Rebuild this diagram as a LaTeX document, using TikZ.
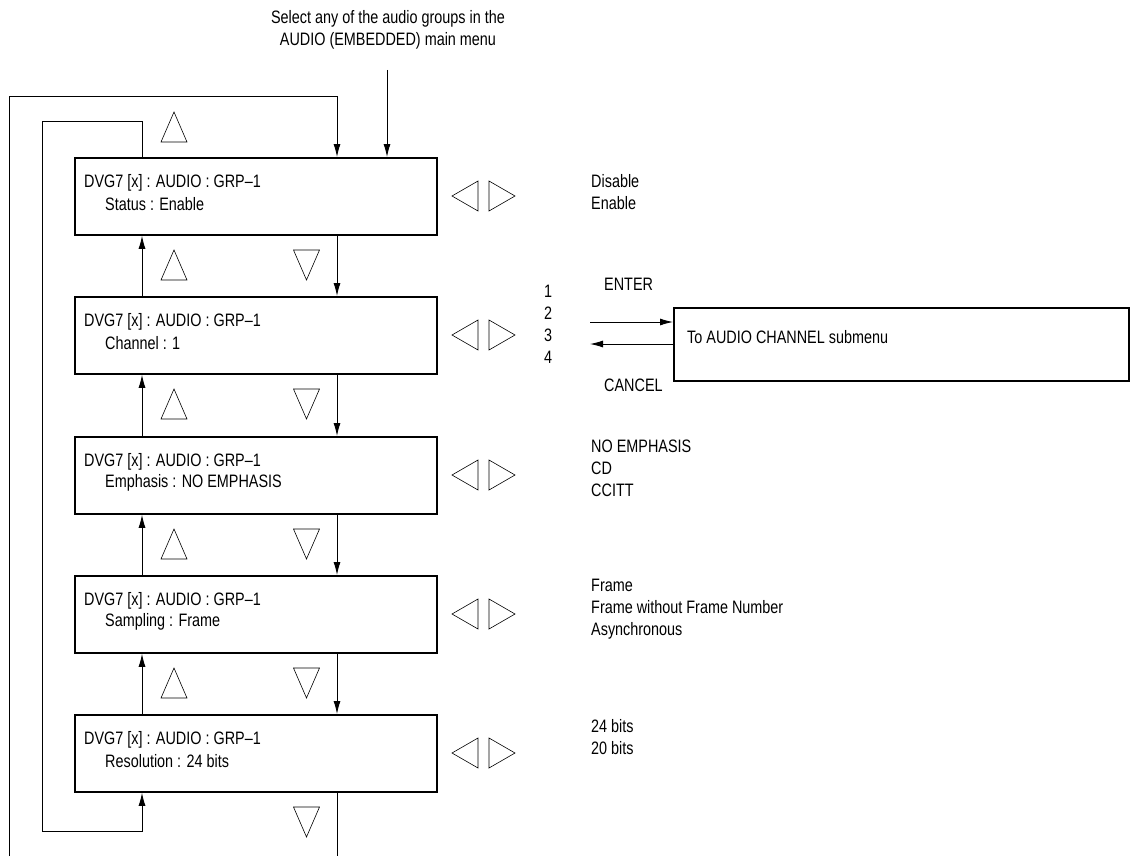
\documentclass[tikz,border=0pt]{standalone}
\usepackage{fontspec}
\setmainfont{Liberation Sans}[FakeStretch=0.8]
\usetikzlibrary{arrows.meta}
\begin{document}
\begin{tikzpicture}[x=1pt,y=-1pt,
  box/.style={draw, line width=1.8pt, minimum width=362pt, minimum height=77pt, inner sep=0pt, anchor=north west},
  txt/.style={font=\fontsize{18}{22}\selectfont, inner sep=0pt, anchor=west},
  ln/.style={line width=0.9pt},
  arr/.style={ln, -{Latex[length=13pt,width=7pt]}},
  tri/.style={line width=0.6pt},
  up/.pic={\draw[tri] (-13,15) -- (13,15) -- (0,-15) -- cycle;},
  dn/.pic={\draw[tri] (-13,-15) -- (13,-15) -- (0,15) -- cycle;},
  lr/.pic={\draw[tri] (-5.5,-15) -- (-5.5,15) -- (-31.5,0) -- cycle;
           \draw[tri] (5.5,-15) -- (5.5,15) -- (31.5,0) -- cycle;}]
\useasboundingbox (0,0) rectangle (1134,856);

% header
\node[txt, anchor=center, align=center] (hdr) at (388,30) {Select any of the audio groups in the\\AUDIO (EMBEDDED) main menu};
\coordinate (entry) at (387,70);

% boxes
\node[box] (b1) at (74,157) {};
\node[box] (b2) at (74,296) {};
\node[box] (b3) at (74,436) {};
\node[box] (b4) at (74,575) {};
\node[box] (b5) at (74,714) {};

\foreach \i/\t/\s in {1/157/Status : Enable, 2/296/Channel : 1, 3/436/Emphasis : NO EMPHASIS, 4/575/Sampling : Frame, 5/714/Resolution : 24 bits}{
  \node[txt] (h\i) at (84,\t+26) {DVG7 [x] : AUDIO : GRP–1};
  \node[txt] (s\i) at (105,\t+47) {\s};
  \pic at (483.5,\t+39) {lr};
}

% option lists
\node[txt, align=left, anchor=north west] (o1) at (591,174) {Disable\\Enable};
\node[txt, align=left, anchor=north west] (o2) at (544,285) {1\\2\\3\\4};
\node[txt, align=left, anchor=north west] (o3) at (591,440) {NO EMPHASIS\\CD\\CCITT};
\node[txt, align=left, anchor=north west] (o4) at (591,579) {Frame\\Frame without Frame Number\\Asynchronous};
\node[txt, align=left, anchor=north west] (o5) at (591,719) {24 bits\\20 bits};

% submenu
\node[draw, line width=1.8pt, minimum width=455pt, minimum height=73pt, anchor=north west, inner sep=0pt] (sub) at (673,307) {};
\node[txt] (subt) at (687,337) {To AUDIO CHANNEL submenu};
\coordinate (en) at (590,322);
\coordinate (ca) at (590,344);
\draw[arr] (en) -- (en -| sub.west);
\draw[arr] (ca -| sub.west) -- (ca);
\node[txt] (ent) at (604,284) {ENTER};
\node[txt] (can) at (604,385) {CANCEL};

% triangles between boxes
\pic at (174,127) {up};
\foreach \t in {157,296,436,575}{
  \pic at (174,\t+108) {up};
  \pic at (306.5,\t+108) {dn};
}
\pic at (306.5,822) {dn};

% vertical connectors
\coordinate (xu) at (142,0);
\coordinate (xd) at (337,0);
\foreach \a/\b in {b1/b2,b2/b3,b3/b4,b4/b5}{
  \draw[arr] (\a.south -| xd) -- (\b.north -| xd);
  \draw[arr] (\b.north -| xu) -- (\a.south -| xu);
}

% entry
\draw[arr] (entry) -- (b1.north -| entry);

% loops
\coordinate (il) at (42,121);
\coordinate (ib) at (42,831);
\coordinate (ol) at (9,96);
\coordinate (obot) at (9,856);
\coordinate (dbot) at (337,856);
\draw[ln] (b1.north -| xu) |- (il) -- (ib);
\draw[arr] (ib) -| (b5.south -| xu);
\draw[arr] (obot) -- (ol) -| (b1.north -| xd);
\draw[ln] (b5.south -| xd) -- (dbot);
\end{tikzpicture}
\end{document}
